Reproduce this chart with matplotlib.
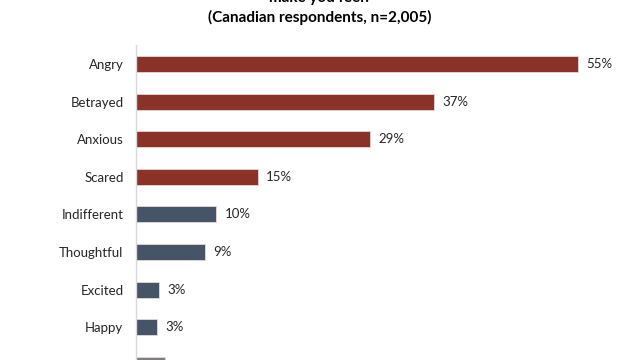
import matplotlib.pyplot as plt

plt.rcParams['font.family'] = ['Lato', 'DejaVu Sans']

# dados (a última barra aparece cortada, sem rótulo visível)
feelings = ["Angry", "Betrayed", "Anxious", "Scared", "Indifferent",
            "Thoughtful", "Excited", "Happy", ""]
shares = [55.0, 37.1, 29.1, 15.2, 10.0, 8.6, 2.9, 2.6, 3.6]
groups = ["neg", "neg", "neg", "neg", "neu", "neu", "neu", "neu", "other"]

colors = {"neg": "#8a3128", "neu": "#465468", "other": "#7f7f7f"}

W, H = 640, 360
fig = plt.figure(figsize=(6.4, 3.6), dpi=100)

# eixo posicionado em pixels (a última barra fica cortada como no original)
step = 37.6
top = 45.2
n = len(feelings)
left_px, right_px = 136, 620
ax = fig.add_axes([left_px / W, 1 - (top + n * step) / H,
                   (right_px - left_px) / W, n * step / H])

ypos = list(range(n))
ax.barh(ypos, shares, height=0.425,
        color=[colors[g] for g in groups],
        edgecolor="#e8d8d6", linewidth=0.6)
ax.set_ylim(n - 0.5, -0.5)
ax.set_xlim(0, (right_px - left_px) / 8.04)

for y, v, name in zip(ypos, shares, feelings):
    if not name:
        continue
    ax.text(v + 1.0, y, f"{v:.0f}%", va="center", ha="left",
            fontsize=9.5, color="#262626")

ax.set_yticks(ypos)
ax.set_yticklabels(feelings, fontsize=9.5, color="#262626")
ax.tick_params(axis="y", length=0, pad=9)
ax.set_xticks([])
for s in ["top", "right", "bottom"]:
    ax.spines[s].set_visible(False)
ax.spines["left"].set_color("#d9d9d9")
ax.spines["left"].set_linewidth(1)

fig.text(0.5, 1 - (-2) / H, "make you feel?", ha="center", va="center",
         fontsize=11, fontweight="bold", color="#000000")
fig.text(0.5, 1 - 17 / H, "(Canadian respondents, n=2,005)", ha="center",
         va="center", fontsize=11, fontweight="bold", color="#000000")

fig.savefig("out.png", dpi=100)
